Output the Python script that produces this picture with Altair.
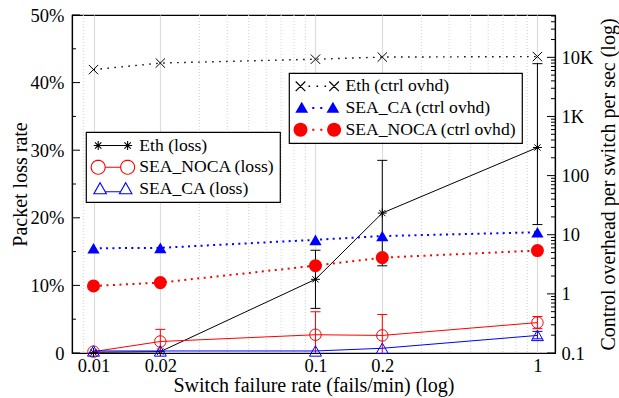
import math
import altair as alt
import pandas as pd

# Switch failure rate (fails/min)
rate = [0.01, 0.02, 0.1, 0.2, 1]

# Packet loss rate (%) with error-bar bounds
eth_loss = [0.1, 0.2, 10.9, 20.7, 30.4]
eth_loss_lo = [0.1, 0.2, 6.6, 12.9, 19.0]
eth_loss_hi = [0.1, 0.2, 15.2, 28.5, 42.8]
noca_loss = [0.2, 1.7, 2.7, 2.6, 4.5]
noca_loss_lo = [0.2, -0.1, -0.7, -0.5, 3.6]
noca_loss_hi = [0.2, 3.5, 6.1, 5.7, 5.4]
ca_loss = [0.3, 0.3, 0.3, 0.7, 2.6]
ca_loss_lo = [0.3, 0.3, 0.3, 0.7, 2.1]
ca_loss_hi = [0.3, 0.3, 0.3, 0.7, 3.2]

# Control overhead per switch per second
eth_ctrl = [6200, 8000, 9300, 10100, 10300]
ca_ctrl = [5.9, 6.0, 8.2, 9.5, 11.0]
noca_ctrl = [1.36, 1.55, 3.0, 4.1, 5.4]

loss_names = ["Eth (loss)", "SEA_NOCA (loss)", "SEA_CA (loss)"]
ctrl_names = ["Eth (ctrl ovhd)", "SEA_CA (ctrl ovhd)", "SEA_NOCA (ctrl ovhd)"]

# Axis tick values
x_ticks = [0.01, 0.02, 0.1, 0.2, 1]
x_minor = [0.009, 0.03, 0.04, 0.05, 0.06, 0.07, 0.08, 0.09,
           0.3, 0.4, 0.5, 0.6, 0.7, 0.8, 0.9]
loss_ticks = [0, 10, 20, 30, 40, 50]
loss_minor = [5, 15, 25, 35, 45]
ctrl_ticks = [0.1, 1, 10, 100, 1000, 10000]
ctrl_minor = [k * d for d in ctrl_ticks for k in range(2, 10) if k * d < 52000]

W, H = 483, 338
FONT = "Liberation Serif"


# ---- symbol path helpers (unit square coordinates) ----
def poly(pts):
    return "M" + "L".join(f"{x:.3f},{y:.3f}" for x, y in pts) + "Z"


def seg(x1, y1, x2, y2):
    return f"M{x1:.3f},{y1:.3f}L{x2:.3f},{y2:.3f}"


def ring(cx, r, n=28):
    return poly([(cx + r * math.cos(2 * math.pi * i / n),
                  r * math.sin(2 * math.pi * i / n)) for i in range(n)])


def tri(cx, hw, top, base):
    return poly([(cx, top), (cx + hw, base), (cx - hw, base)])


def star(cx, a):
    d = a * 0.72
    return (seg(cx - a, 0, cx + a, 0) + seg(cx, -a, cx, a)
            + seg(cx - d, -d, cx + d, d) + seg(cx - d, d, cx + d, -d))


def bar(x1, y1, x2, y2, t):
    L = math.hypot(x2 - x1, y2 - y1)
    nx, ny = -(y2 - y1) / L * t, (x2 - x1) / L * t
    return poly([(x1 + nx, y1 + ny), (x2 + nx, y2 + ny),
                 (x2 - nx, y2 - ny), (x1 - nx, y1 - ny)])


def xfill(cx, a, t):
    return bar(cx - a, -a, cx + a, a, t) + bar(cx - a, a, cx + a, -a, t)


def dot(cx, s):
    return poly([(cx - s, -s), (cx + s, -s), (cx + s, s), (cx - s, s)])


# legend keys for the loss series (stroked)
c1, ct = 1.84, 1.6
loss_key_paths = [
    seg(-c1, 0, c1, 0) + star(-c1, 0.56) + star(c1, 0.56),
    ring(-c1, 0.875) + ring(c1, 0.875) + seg(-c1 + 0.875, 0, c1 - 0.875, 0),
    tri(-ct, 0.78, -0.78, 0.6) + tri(ct, 0.78, -0.78, 0.6)
    + seg(-ct + 0.64, 0.35, ct - 0.64, 0.35),
]

# legend keys for the control-overhead series (filled)
c2, c2t = 2.1, 1.95
ctrl_key_paths = [
    xfill(-c2, 0.6, 0.075) + xfill(c2, 0.6, 0.075)
    + dot(-1.0, 0.1) + dot(0, 0.1) + dot(1.0, 0.1),
    tri(-c2t, 0.8, -0.78, 0.6) + tri(c2t, 0.8, -0.78, 0.6)
    + dot(-0.5, 0.13) + dot(0.5, 0.13),
    ring(-c2, 0.875) + ring(c2, 0.875) + dot(-0.5, 0.13) + dot(0.5, 0.13),
]

ASTERISK = "M-1,0L1,0M0,-1L0,1M-0.7,-0.7L0.7,0.7M-0.7,0.7L0.7,-0.7"
XMARK = "M-1,-1L1,1M-1,1L1,-1"

# ---- scales and axes ----
x_scale = alt.Scale(type="log", domain=[0.008, 1.2], nice=False)
x_axis = alt.Axis(values=x_ticks, labelExpr="'' + datum.value",
                  title="Switch failure rate (fails/min) (log)",
                  grid=True, gridColor="#dcdcdc", gridWidth=1.2,
                  ticks=False, tickSize=0, labelPadding=3, titlePadding=1,
                  labelFlush=False, labelOverlap=False)

loss_scale = alt.Scale(domain=[0, 50], nice=False, zero=True)
loss_axis = alt.Axis(orient="left", values=loss_ticks,
                     labelExpr="datum.value == 0 ? '0' : datum.value + '%'",
                     title="Packet loss rate", grid=False, ticks=False,
                     tickSize=0, labelPadding=8, titlePadding=0,
                     labelFlush=False, labelOverlap=False)

ctrl_scale = alt.Scale(type="log", domain=[0.1, 52000], nice=False)
ctrl_axis = alt.Axis(orient="right", values=ctrl_ticks,
                     labelExpr="datum.value >= 1000 ? (datum.value / 1000) + 'K' : '' + datum.value",
                     title="Control overhead per switch per sec (log)",
                     titleAngle=270, titleBaseline="top",
                     grid=False, ticks=False, tickSize=0, labelPadding=6,
                     titlePadding=6, labelFlush=False, labelOverlap=False)


def X(field="rate"):
    return alt.X(f"{field}:Q", scale=x_scale, axis=x_axis)


def YL(field):
    return alt.Y(f"{field}:Q", scale=loss_scale, axis=loss_axis)


def YR(field):
    return alt.Y(f"{field}:Q", scale=ctrl_scale, axis=ctrl_axis)


loss_df = pd.DataFrame({
    "rate": rate,
    "eth": eth_loss, "eth_lo": eth_loss_lo, "eth_hi": eth_loss_hi,
    "noca": noca_loss, "noca_lo": noca_loss_lo, "noca_hi": noca_loss_hi,
    "ca": ca_loss, "ca_lo": ca_loss_lo, "ca_hi": ca_loss_hi,
})
ctrl_df = pd.DataFrame({"rate": rate, "eth": eth_ctrl, "ca": ca_ctrl,
                        "noca": noca_ctrl})


def loss_series(key, color, shape, size):
    base = alt.Chart(loss_df)
    err = base.transform_filter(f"datum.{key}_hi > datum.{key}_lo")
    line = base.mark_line(color=color, strokeWidth=1, clip=True).encode(
        x=X(), y=YL(key))
    rule = err.mark_rule(color=color, strokeWidth=1, clip=True).encode(
        x=X(), y=YL(f"{key}_lo"), y2=alt.Y2(f"{key}_hi:Q"))
    caps = [err.mark_tick(orient="horizontal", size=10, thickness=1,
                          color=color, opacity=1, clip=True).encode(
        x=X(), y=YL(f"{key}_{end}")) for end in ("hi", "lo")]
    pts = base.mark_point(shape=shape, size=size, filled=False, color=color,
                          strokeWidth=1, opacity=1).encode(x=X(), y=YL(key))
    return [line, rule, *caps, pts]


def ctrl_series(key, color, shape, size, filled, sw, dash):
    base = alt.Chart(ctrl_df)
    line = base.mark_line(color=color, strokeWidth=sw, strokeDash=dash,
                          clip=True).encode(x=X(), y=YR(key))
    pts = base.mark_point(shape=shape, size=size, filled=filled, color=color,
                          strokeWidth=1, opacity=1).encode(x=X(), y=YR(key))
    return [line, pts]


# minor vertical grid
minor_grid = alt.Chart(pd.DataFrame({"g": x_minor})).mark_rule(
    color="#d2d2d2", strokeDash=[1, 2], strokeWidth=1).encode(x=X("g"))

# inward ticks on the left and right axes
left_ticks = [
    alt.Chart(pd.DataFrame({"v": loss_ticks})).mark_rule(color="black").encode(
        y=YL("v"), x=alt.value(0), x2=alt.value(8)),
    alt.Chart(pd.DataFrame({"v": loss_minor})).mark_rule(color="black").encode(
        y=YL("v"), x=alt.value(0), x2=alt.value(4)),
]
right_ticks = [
    alt.Chart(pd.DataFrame({"v": ctrl_ticks})).mark_rule(color="black").encode(
        y=YR("v"), x=alt.value(W - 8), x2=alt.value(W)),
    alt.Chart(pd.DataFrame({"v": ctrl_minor})).mark_rule(color="black").encode(
        y=YR("v"), x=alt.value(W - 4), x2=alt.value(W)),
]

# legends
loss_legend = alt.Legend(orient="none", legendX=14, legendY=117, title=None,
                         symbolSize=256, symbolOffset=13.4, labelOffset=17.4,
                         symbolStrokeWidth=1.1, symbolOpacity=1,
                         labelLimit=400, padding=4.5, rowPadding=2.7,
                         strokeColor="black", fillColor="white")
ctrl_legend = alt.Legend(orient="none", legendX=217, legendY=58, title=None,
                         symbolSize=256, symbolOffset=15, labelOffset=19.4,
                         symbolStrokeWidth=0, symbolOpacity=1,
                         labelLimit=400, padding=4.5, rowPadding=2.7,
                         strokeColor="black", fillColor="white")

loss_key = alt.Chart(pd.DataFrame({
    "series": loss_names, "rate": [rate[0]] * 3, "v": [0] * 3,
})).mark_point(filled=False, opacity=0).encode(
    x=X(), y=YL("v"),
    color=alt.Color("series:N", legend=loss_legend,
                    scale=alt.Scale(domain=loss_names,
                                    range=["#000000", "#ff0000", "#0000ff"])),
    shape=alt.Shape("series:N", legend=loss_legend,
                    scale=alt.Scale(domain=loss_names, range=loss_key_paths)),
)

ctrl_key = alt.Chart(pd.DataFrame({
    "series": ctrl_names, "rate": [rate[0]] * 3, "v": [1] * 3,
})).mark_point(filled=True, opacity=0).encode(
    x=X(), y=YR("v"),
    color=alt.Color("series:N", legend=ctrl_legend,
                    scale=alt.Scale(domain=ctrl_names,
                                    range=["#000000", "#0000ff", "#ff0000"])),
    shape=alt.Shape("series:N", legend=ctrl_legend,
                    scale=alt.Scale(domain=ctrl_names, range=ctrl_key_paths)),
)

loss_layer = alt.layer(
    minor_grid, *left_ticks,
    *loss_series("eth", "#000000", ASTERISK, 81),
    *loss_series("noca", "#ff0000", "circle", 132),
    *loss_series("ca", "#0000ff", "triangle-up", 144),
    loss_key,
)

ctrl_layer = alt.layer(
    *right_ticks,
    *ctrl_series("eth", "#000000", XMARK, 88, False, 1.4, [1.5, 5.5]),
    *ctrl_series("ca", "#0000ff", "triangle-up", 150, True, 2, [2, 4.3]),
    *ctrl_series("noca", "#ff0000", "circle", 170, True, 2, [2, 4.5]),
    ctrl_key,
)

chart = alt.layer(loss_layer, ctrl_layer).resolve_scale(
    y="independent", color="independent", shape="independent"
).properties(
    width=W, height=H,
    autosize=alt.AutoSizeParams(type="none"),
    padding={"left": 72, "top": 15, "right": 64, "bottom": 45},
    background="white",
).configure_view(
    stroke="black", strokeWidth=1.2
).configure_axis(
    labelFont=FONT, titleFont=FONT, labelFontSize=18.5, titleFontSize=20,
    titleFontWeight="normal", labelColor="black", titleColor="black",
    domainColor="black", domainWidth=1.2,
).configure_legend(
    labelFont=FONT, labelFontSize=17.6, labelColor="black", strokeWidth=1.2,
)

chart.save("out.html", embed_options={"renderer": "svg", "actions": False})
